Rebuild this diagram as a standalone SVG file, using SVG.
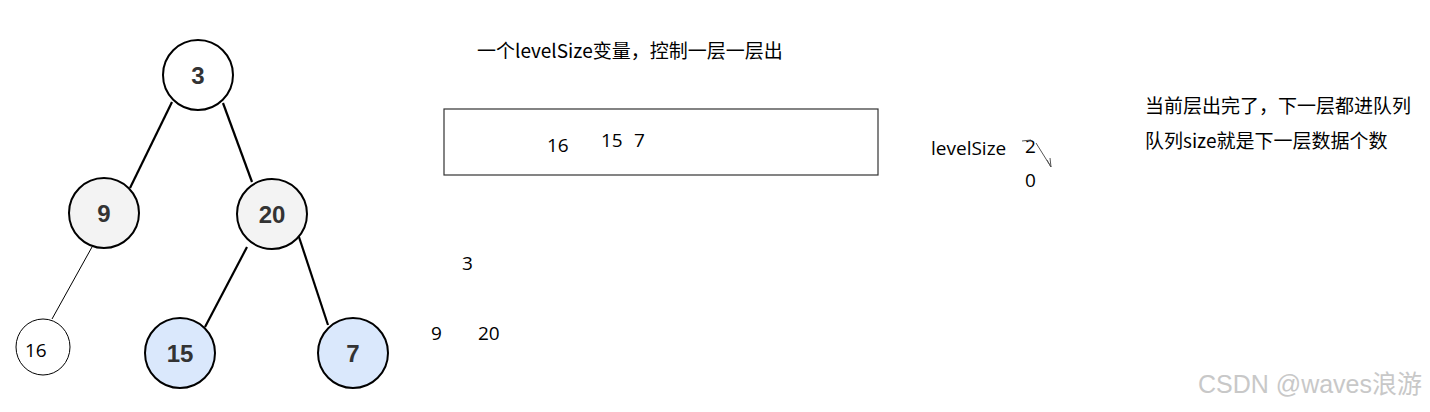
<svg xmlns="http://www.w3.org/2000/svg" width="1430" height="412" viewBox="0 0 1430 412">
<style>
.n{stroke:#000;stroke-width:2}
.w{fill:#fff}.g{fill:#f3f3f3}.b{fill:#dae8fc}
.nt{font-family:"Liberation Sans",Arial,sans-serif;font-weight:bold;font-size:24px;fill:#333;text-anchor:middle}
.e{stroke:#000;stroke-width:2.2;fill:none}
.t{font-family:"Noto Sans CJK SC","Liberation Sans",sans-serif;font-size:19px;fill:#000}
.d{font-family:"Open Sans","Liberation Sans",sans-serif;font-size:19px;fill:#000}
</style>
<rect width="1430" height="412" fill="#fff"/>
<g id="edges">
<line class="e" x1="172" y1="102" x2="130" y2="188"/>
<line class="e" x1="223" y1="103" x2="252" y2="182"/>
<line stroke="#000" stroke-width="1" x1="92" y1="247" x2="52" y2="319"/>
<line class="e" x1="247" y1="247" x2="205" y2="327"/>
<line class="e" x1="298" y1="234" x2="328" y2="325"/>
</g>
<g id="n3"><circle class="n w" cx="198" cy="75" r="35"/><text class="nt" x="198" y="84">3</text></g>
<g id="n9"><circle class="n g" cx="104" cy="213" r="35"/><text class="nt" x="104" y="222">9</text></g>
<g id="n20"><circle class="n g" cx="272" cy="214" r="35"/><text class="nt" x="272" y="223">20</text></g>
<g id="n16"><ellipse fill="#fff" stroke="#000" stroke-width="1" cx="43" cy="347" rx="27" ry="28"/><text font-family="'Open Sans','Liberation Sans',sans-serif" font-size="19" fill="#000" x="25" y="357">16</text></g>
<g id="n15"><circle class="n b" cx="180" cy="353" r="35"/><text class="nt" x="180" y="362">15</text></g>
<g id="n7"><circle class="n b" cx="353" cy="353" r="35"/><text class="nt" x="353" y="362">7</text></g>
<g id="notes">
<text class="t" x="477" y="58">一个levelSize变量，控制一层一层出</text>
<rect x="444" y="109" width="434" height="66" fill="none" stroke="#333" stroke-width="1.2"/>
<text class="d" x="547" y="152">16</text>
<text class="d" x="601" y="147">15</text>
<text class="d" x="634" y="147">7</text>
<text class="d" x="931" y="155">levelSize</text>
<text class="d" x="1025" y="153">2</text>
<text class="d" x="1025" y="187">0</text>
<path d="M1022 141 L1031 140 M1036 143 L1051 167 M1047 160 L1051 167 L1050 158" stroke="#555" stroke-width="1" fill="none"/>
<text class="t" x="1145" y="113">当前层出完了，下一层都进队列</text>
<text class="t" x="1145" y="148">队列size就是下一层数据个数</text>
<text class="d" x="462" y="270">3</text>
<text class="d" x="431" y="340">9</text>
<text class="d" x="478" y="340">20</text>
<text font-family="'Liberation Sans','Noto Sans CJK SC',sans-serif" font-size="25" fill="#c8c8c8" x="1198" y="393">CSDN @waves浪游</text>
</g>
</svg>
